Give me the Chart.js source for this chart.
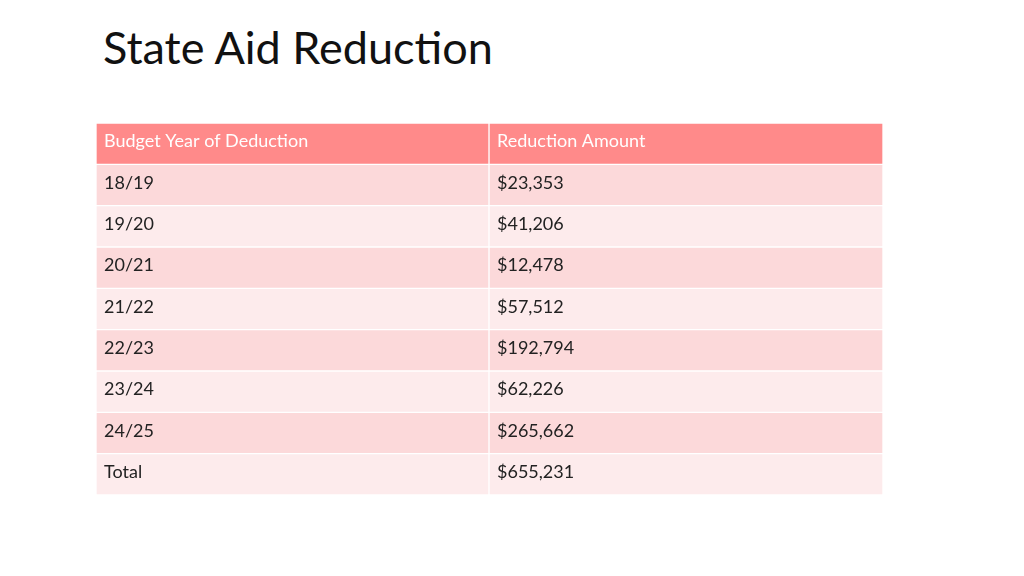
<!DOCTYPE html>
<html><head><meta charset="utf-8">
<script src="https://cdn.jsdelivr.net/npm/chart.js@4"></script>
<style>
body{margin:0;width:1024px;height:576px;background:#fff;position:relative;overflow:hidden;font-family:Lato,"Noto Sans",sans-serif}
h1{position:absolute;left:103px;top:20px;margin:0;font-weight:400;font-size:45px;color:#111;font-family:Lato,"Noto Sans",sans-serif}
#wrap{position:absolute;left:96px;top:123px;width:787px;height:372px}
</style></head><body>
<h1>State Aid Reduction</h1>
<div id="wrap"><canvas id="c"></canvas></div>
<script>
const headers = ["Budget Year of Deduction", "Reduction Amount"];
const years = ["18/19","19/20","20/21","21/22","22/23","23/24","24/25","Total"];
const amounts = ["$23,353","$41,206","$12,478","$57,512","$192,794","$62,226","$265,662","$655,231"];
const rows = ["header", ...years];
const firstCol = [headers[0], ...years];
const secondCol = [headers[1], ...amounts];
const rowColors = rows.map((r,i)=> i===0 ? "#FF8A8A" : (i%2===1 ? "#FCD9DA" : "#FDEBEC"));
const textPlugin = {
  id:"cellText",
  afterDatasetsDraw(chart){
    const ctx = chart.ctx;
    ctx.save();
    ctx.textBaseline = "middle";
    chart.data.datasets.forEach((ds,di)=>{
      const meta = chart.getDatasetMeta(di);
      meta.data.forEach((bar,i)=>{
        const texts = di===0 ? firstCol : secondCol;
        ctx.fillStyle = i===0 ? "#ffffff" : "#222222";
        ctx.font = "18px Lato, 'Noto Sans', sans-serif";
        const left = Math.min(bar.base, bar.x);
        ctx.fillText(texts[i], left + 8, bar.y - 2);
      });
    });
    ctx.restore();
  }
};
new Chart(document.getElementById("c"),{
  type:"bar",
  data:{labels:rows,datasets:[
    {data:rows.map(()=>393),backgroundColor:rowColors,borderColor:"#fff",borderWidth:1,barPercentage:1,categoryPercentage:1,borderSkipped:false},
    {data:rows.map(()=>394),backgroundColor:rowColors,borderColor:"#fff",borderWidth:1,barPercentage:1,categoryPercentage:1,borderSkipped:false}
  ]},
  options:{
    indexAxis:"y",responsive:true,maintainAspectRatio:false,animation:false,
    layout:{padding:0},
    plugins:{legend:{display:false},tooltip:{enabled:false}},
    scales:{
      x:{stacked:true,min:0,max:787,display:false},
      y:{stacked:true,display:false}
    }
  },
  plugins:[textPlugin]
});
</script>
</body></html>
